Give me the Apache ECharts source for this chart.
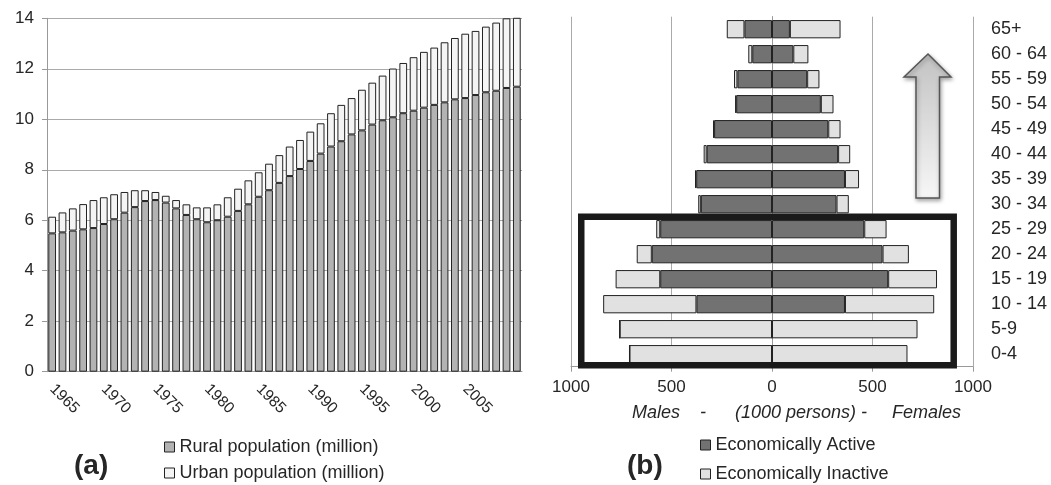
<!DOCTYPE html>
<html><head><meta charset="utf-8">
<script src="https://cdn.jsdelivr.net/npm/echarts@6/dist/echarts.min.js"></script>
<style>html,body{margin:0;padding:0;background:#fff}#c{width:1051px;height:485px}</style>
</head><body><div id="c"></div>
<script>
// ---------- (a) population by year ----------
const years = ['1965','1966','1967','1968','1969','1970','1971','1972','1973','1974',
  '1975','1976','1977','1978','1979','1980','1981','1982','1983','1984',
  '1985','1986','1987','1988','1989','1990','1991','1992','1993','1994',
  '1995','1996','1997','1998','1999','2000','2001','2002','2003','2004',
  '2005','2006','2007','2008','2009','2010'];
const rural = [5.48,5.52,5.59,5.64,5.69,5.85,6.04,6.30,6.52,6.76,
  6.80,6.70,6.47,6.21,6.04,5.92,6.00,6.14,6.37,6.63,
  6.93,7.19,7.48,7.75,8.03,8.35,8.64,8.92,9.13,9.40,
  9.56,9.79,9.96,10.08,10.24,10.34,10.46,10.57,10.67,10.79,
  10.84,10.96,11.07,11.13,11.24,11.29];
const urban = [0.66,0.79,0.88,1.00,1.11,1.06,0.99,0.82,0.67,0.43,
  0.32,0.27,0.33,0.42,0.47,0.59,0.63,0.77,0.88,0.95,
  0.97,1.05,1.10,1.17,1.15,1.16,1.20,1.32,1.44,1.44,
  1.61,1.66,1.77,1.93,1.99,2.12,2.21,2.27,2.38,2.43,
  2.55,2.54,2.60,2.70,2.76,2.91];
const yTicksA = [0,2,4,6,8,10,12,14];

// ---------- (b) age pyramid (1000 persons) ----------
const ages = ['0-4','5-9','10 - 14','15 - 19','20 - 24','25 - 29','30 - 34','35 - 39',
  '40 - 44','45 - 49','50 - 54','55 - 59','60 - 64','65+'];
const maleActive     = [0,0,376,556,598,556,354,377,325,288,178,172,98,137];
const maleInactive   = [709,758,464,222,75,20,13,6,15,5,5,17,20,88];
const femaleActive   = [0,0,363,578,550,459,321,363,329,280,243,175,106,89];
const femaleInactive = [674,724,444,243,131,111,61,70,60,61,63,61,75,252];
const xTicksB = [-1000,-500,0,500,1000];
// highlighted box: age groups and extent in (1000 persons)
const boxAges = ['0-4','25 - 29'];
const boxExtent = [-949, 904];

const FONT = '"Liberation Sans", Arial, Helvetica, sans-serif';
const TXT = '#262626';
const EDGE = '#222';

function legendItem(name, left, top) {
  return { data: [name], left: left, top: top, itemWidth: 10, itemHeight: 10,
    icon: 'rect', padding: 0, textStyle: { fontSize: 18, color: TXT, fontFamily: FONT },
    itemStyle: { borderColor: EDGE, borderWidth: 1 } };
}

const chart = echarts.init(document.getElementById('c'));
const option = {
  animation: false,
  textStyle: { fontFamily: FONT },
  grid: [
    { left: 47, top: 18.3, width: 475, height: 353.4 },
    { left: 571, top: 16.7, width: 402, height: 350 }
  ],
  legend: [
    legendItem('Rural population (million)', 164, 438),
    legendItem('Urban population (million)', 164, 464),
    legendItem('Economically Active', 700, 436),
    legendItem('Economically Inactive', 700, 465)
  ],
  xAxis: [
    { gridIndex: 0, type: 'category', data: years,
      axisLine: { lineStyle: { color: '#999' } },
      axisTick: { interval: 0, length: 5, lineStyle: { color: '#999' } },
      axisLabel: { interval: (i) => i % 5 === 0 && i < 45, rotate: -45, fontSize: 15.5, color: TXT, margin: 15 } },
    { gridIndex: 1, type: 'value', min: xTicksB[0], max: xTicksB[xTicksB.length - 1], interval: 500,
      axisLine: { show: true, lineStyle: { color: '#999' } },
      axisTick: { show: true, length: 5, lineStyle: { color: '#999' } },
      axisLabel: { formatter: v => String(Math.abs(v)), fontSize: 17, color: TXT, margin: 12 },
      splitLine: { show: true, lineStyle: { color: ['#aaa', '#aaa', '#333', '#aaa', '#aaa'], width: 1 } } }
  ],
  yAxis: [
    { gridIndex: 0, type: 'value', min: yTicksA[0], max: yTicksA[yTicksA.length - 1], interval: 2,
      axisLine: { show: true, lineStyle: { color: '#999' } },
      axisTick: { show: true, length: 5, lineStyle: { color: '#999' } },
      axisLabel: { fontSize: 17, color: TXT, margin: 13 },
      splitLine: { lineStyle: { color: '#aaa' } } },
    { gridIndex: 1, type: 'category', data: ages, position: 'right',
      axisLine: { lineStyle: { color: '#999' } },
      axisTick: { length: 7, lineStyle: { color: '#999' } },
      axisLabel: { fontSize: 18, color: TXT, margin: 18 },
      splitLine: { show: false } }
  ],
  series: [
    { name: 'Rural population (million)', type: 'bar', xAxisIndex: 0, yAxisIndex: 0, stack: 'pop',
      data: rural, barCategoryGap: '25%',
      itemStyle: { color: '#b3b3b3', borderColor: EDGE, borderWidth: 1 } },
    { name: 'Urban population (million)', type: 'bar', xAxisIndex: 0, yAxisIndex: 0, stack: 'pop',
      data: urban, barCategoryGap: '25%',
      itemStyle: { color: '#f4f4f4', borderColor: EDGE, borderWidth: 1 } },
    { name: 'Economically Active', type: 'bar', xAxisIndex: 1, yAxisIndex: 1, stack: 'pyr',
      data: maleActive.map(v => -v), barCategoryGap: '27%',
      itemStyle: { color: '#727272', borderColor: EDGE, borderWidth: 1 } },
    { name: 'Economically Inactive', type: 'bar', xAxisIndex: 1, yAxisIndex: 1, stack: 'pyr',
      data: maleInactive.map(v => -v), barCategoryGap: '27%',
      itemStyle: { color: '#e1e1e1', borderColor: EDGE, borderWidth: 1 } },
    { name: 'Economically Active', type: 'bar', xAxisIndex: 1, yAxisIndex: 1, stack: 'pyr',
      data: femaleActive, barCategoryGap: '27%',
      itemStyle: { color: '#727272', borderColor: EDGE, borderWidth: 1 } },
    { name: 'Economically Inactive', type: 'bar', xAxisIndex: 1, yAxisIndex: 1, stack: 'pyr',
      data: femaleInactive, barCategoryGap: '27%',
      itemStyle: { color: '#e1e1e1', borderColor: EDGE, borderWidth: 1 } },
    { name: 'box', type: 'custom', xAxisIndex: 1, yAxisIndex: 1, silent: true, clip: false, z: 10,
      data: [[boxExtent[0], ages.indexOf(boxAges[1])]],
      renderItem: function (params, api) {
        const topIdx = ages.indexOf(boxAges[1]);
        const botIdx = ages.indexOf(boxAges[0]);
        const p1 = api.coord([boxExtent[0], topIdx]);
        const p2 = api.coord([boxExtent[1], botIdx]);
        const band = api.size([0, 1])[1];
        const y1 = p1[1] - band / 2;
        const y2 = p2[1] + band / 2 - 1.5;
        return { type: 'rect',
          shape: { x: p1[0], y: y1, width: p2[0] - p1[0], height: y2 - y1 },
          style: { fill: 'none', stroke: '#1a1a1a', lineWidth: 6.5 } };
      } }
  ],
  graphic: [
    { type: 'text', x: 74, y: 466, style: { text: '(a)', font: 'bold 28px ' + FONT, fill: TXT, textVerticalAlign: 'middle' } },
    { type: 'text', x: 627, y: 466, style: { text: '(b)', font: 'bold 28px ' + FONT, fill: TXT, textVerticalAlign: 'middle' } },
    { type: 'text', x: 632, y: 413, style: { text: 'Males', font: 'italic 18px ' + FONT, fill: TXT, textVerticalAlign: 'middle' } },
    { type: 'text', x: 700, y: 413, style: { text: '-', font: 'italic 18px ' + FONT, fill: TXT, textVerticalAlign: 'middle' } },
    { type: 'text', x: 735, y: 413, style: { text: '(1000 persons) -', font: 'italic 18px ' + FONT, fill: TXT, textVerticalAlign: 'middle' } },
    { type: 'text', x: 892, y: 413, style: { text: 'Females', font: 'italic 18px ' + FONT, fill: TXT, textVerticalAlign: 'middle' } },
    { type: 'polygon',
      shape: { points: [[928, 54], [951, 77], [939.5, 77], [939.5, 198], [916, 198], [916, 77], [904, 77]] },
      style: {
        fill: { type: 'linear', x: 0, y: 0, x2: 0, y2: 1,
          colorStops: [{ offset: 0, color: '#c2c2c2' }, { offset: 1, color: '#f7f7f7' }] },
        stroke: '#555', lineWidth: 1.5,
        shadowBlur: 4, shadowColor: 'rgba(0,0,0,0.35)', shadowOffsetX: 1, shadowOffsetY: 2 } }
  ]
};
chart.setOption(option);
</script>
</body></html>
